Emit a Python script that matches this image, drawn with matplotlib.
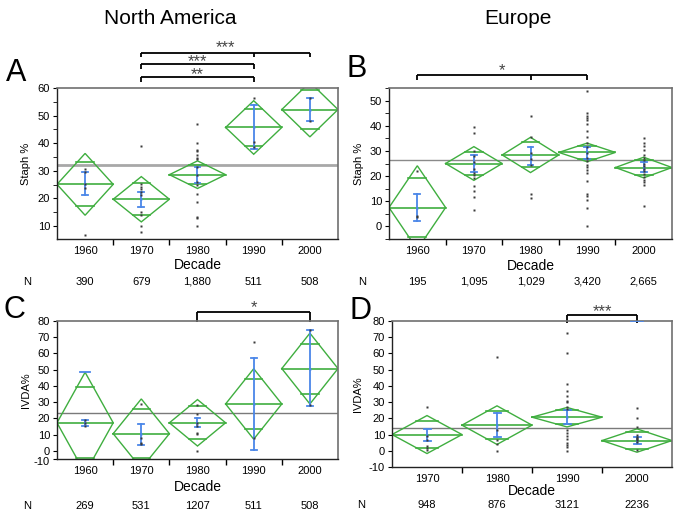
import matplotlib
matplotlib.use('Agg')
import matplotlib.pyplot as plt
import matplotlib.transforms as mtrans
import numpy as np

plt.rcParams['font.family'] = ['Liberation Sans', 'DejaVu Sans']

# ---------------- data ----------------
decades5 = ['1960', '1970', '1980', '1990', '2000']
decades4 = ['1970', '1980', '1990', '2000']

# Panel A - North America, Staph %
means_A = [25.1, 19.7, 28.6, 45.7, 52.2]
ci_A = [11.2, 8.2, 5.0, 9.7, 9.9]
err_lo_A = [21.1, 16.9, 25.6, 37.8, 48.0]
err_hi_A = [29.4, 22.3, 31.5, 53.7, 56.5]
points_A = [
    [30.7, 29.6, 25.1, 23.8, 6.9],
    [39.0, 25.3, 24.2, 23.3, 22.3, 21.2, 15.2, 13.9, 9.9, 7.9],
    [47.1, 39.9, 37.5, 37.0, 35.7, 34.8, 34.2, 31.5, 28.5, 26.0, 24.8, 21.6, 18.8, 13.4, 13.0, 10.0],
    [56.5, 40.3, 38.5],
    [56.4, 48.0],
]
grand_A = 32.2
N_A = ['390', '679', '1,880', '511', '508']

# Panel B - Europe, Staph %
means_B = [7.5, 25.0, 28.4, 29.4, 23.4]
ci_B = [16.6, 6.7, 7.0, 3.7, 4.1]
err_lo_B = [2.0, 21.6, 24.5, 26.7, 21.7]
err_hi_B = [12.8, 28.4, 31.7, 31.5, 25.4]
points_B = [
    [22.1, 4.2, 3.6],
    [39.4, 37.0, 30.0, 28.0, 25.5, 23.0, 21.4, 20.5, 19.2, 15.9, 14.2, 11.6, 6.6],
    [43.7, 35.6, 29.0, 26.7, 24.6, 13.0, 11.3],
    [53.8, 45.0, 44.0, 43.1, 42.1, 40.6, 38.1, 35.6, 33.1, 31.5, 29.0, 27.0, 25.8, 24.5,
     23.5, 22.5, 21.4, 17.9, 13.0, 11.9, 10.3, 7.3, 0.0],
    [35.1, 33.3, 31.8, 30.4, 28.4, 27.1, 26.3, 25.0, 24.0, 23.0, 22.0, 21.0, 19.6, 18.6,
     17.5, 16.6, 8.2],
]
grand_B = 26.2
N_B = ['195', '1,095', '1,029', '3,420', '2,665']

# Panel C - North America, IVDA%
means_C = [17.3, 10.6, 17.3, 28.9, 50.7]
ci_C = [31.1, 21.4, 14.3, 21.7, 21.8]
err_lo_C = [15.5, 3.7, 14.5, 0.6, 27.7]
err_hi_C = [19.0, 16.5, 20.0, 57.2, 74.3]
extra_cap_C = {0: 48.4}
points_C = [
    [19.0, 17.3, 15.3],
    [28.9, 7.7, 5.0, 4.0],
    [28.3, 22.8, 16.9, 15.3, 11.2, 10.4, 0.0],
    [67.2, 7.7],
    [74.3, 28.1],
]
grand_C = 23.3
N_C = ['269', '531', '1207', '511', '508']

# Panel D - Europe, IVDA%
means_D = [10.0, 15.8, 20.7, 6.3]
ci_D = [11.7, 11.9, 6.0, 7.2]
err_lo_D = [6.3, 8.6, 16.4, 4.3]
err_hi_D = [13.7, 23.2, 24.9, 8.4]
extra_cap_D = {3: 79.8}
points_D = [
    [26.9, 9.0, 6.7, 3.0, 2.0, 0.3],
    [57.8, 12.7, 6.7, 4.1, -0.2],
    [72.4, 60.2, 40.9, 36.8, 33.5, 30.8, 30.0, 26.9, 25.5, 12.9, 11.1, 9.0, 7.0, 4.9, 3.7, 2.5, -0.4],
    [26.5, 20.3, 14.8, 9.5, 8.5, 8.0, 7.2, 6.5, 5.5, 0.6],
]
grand_D = 14.2
N_D = ['948', '876', '3121', '2236']

yticks_staph_A = [10, 20, 30, 40, 50, 60]
yticks_staph_B = [0, 10, 20, 30, 40, 50]
yticks_ivda = [0, 10, 20, 30, 40, 50, 60, 70, 80]

# significance brackets: (category indices, label, line y px from top, star offset px)
brackets_A = [([1, 3, 4], '***', 52.7, 6.5), ([1, 3], '***', 64.3, 3.8), ([1, 3], '**', 77.3, 4.0)]
brackets_B = [([0, 2, 3], '*', 75.0, 5.7)]
brackets_C = [([2, 4], '*', 311.7, 5.7)]
brackets_D = [([2, 3], '***', 315.0, 5.0)]

# ---------------- drawing ----------------
W, H = 683, 519
fig = plt.figure(figsize=(W / 100, H / 100), dpi=100)

GREEN = '#3fae3f'
BLUE = '#4a86e8'
PT = '#3a3a3a'
STAR_FS = 12


def rect(l, r, t, b):
    return [l / W, 1 - b / H, (r - l) / W, (b - t) / H]


def fy(px):
    return 1 - px / H


def panel(r, cats, means, ci, elo, ehi, pts, grand, ylim, yticks, ylabel,
          minor=False, extra_caps=None, grand_lw=1.0, grand_color='#8a8a8a',
          ylab_off=26, xlab_off=19, brackets=(), tick_len=4, extra_bottom_label=None):
    ax = fig.add_axes(rect(*r))
    n = len(cats)
    ax.set_xlim(-0.5, n - 0.5)
    ax.set_ylim(*ylim)
    ax.axhline(grand, color=grand_color, lw=grand_lw, zorder=1)
    hw = 0.5 * (1 - 1 / np.sqrt(2)) + 0.01
    for i in range(n):
        m, h = means[i], ci[i]
        o = h / np.sqrt(2)
        ax.plot([i - 0.5, i, i + 0.5, i, i - 0.5], [m, m + h, m, m - h, m],
                color=GREEN, lw=1.0, zorder=2, solid_joinstyle='miter')
        ax.plot([i - 0.5, i + 0.5], [m, m], color=GREEN, lw=1.2, zorder=2)
        ax.plot([i - hw, i + hw], [m + o, m + o], color=GREEN, lw=1.2, zorder=2)
        ax.plot([i - hw, i + hw], [m - o, m - o], color=GREEN, lw=1.2, zorder=2)
        ax.plot([i] * len(pts[i]), pts[i], 's', ms=1.7, color=PT, mec='none', zorder=4)
        ax.plot([i, i], [elo[i], ehi[i]], color=BLUE, lw=1.3, zorder=3)
        for v in (elo[i], ehi[i]):
            ax.plot([i - 0.05, i + 0.05], [v, v], color=BLUE, lw=1.3, zorder=3)
        ax.plot([i], [means[i]], 's', ms=1.7, color=BLUE, mec='none', zorder=3)
    if extra_caps:
        for i, v in extra_caps.items():
            ax.plot([i - 0.09, i + 0.09], [v, v], color=BLUE, lw=1.3, zorder=3)

    # axes styling
    for s in ('left', 'bottom'):
        ax.spines[s].set_color('#222222')
        ax.spines[s].set_linewidth(1.0)
    for s in ('top', 'right'):
        ax.spines[s].set_color('#707070')
        ax.spines[s].set_linewidth(1.2)
    ax.set_xticks(np.arange(n))
    ax.set_xticklabels(cats)
    ax.set_xticks(np.arange(n - 1) + 0.5, minor=True)
    ax.tick_params(axis='x', which='major', length=0, pad=5, labelsize=8)
    ax.tick_params(axis='x', which='minor', length=4, direction='out', width=1)
    ticks = list(yticks)
    labels = [str(t) for t in yticks]
    if extra_bottom_label is not None:
        ticks = [ylim[0]] + ticks
        labels = [extra_bottom_label] + labels
    ax.set_yticks(ticks)
    ax.set_yticklabels(labels)
    if minor:
        ax.set_yticks(np.arange(np.ceil(ylim[0] / 5) * 5, ylim[1] + 0.1, 5), minor=True)
    ax.tick_params(axis='y', which='both', length=3, direction='out', pad=2, labelsize=8)
    if extra_bottom_label is not None:
        lab0 = ax.get_yticklabels()[0]
        lab0.set_transform(lab0.get_transform() +
                           mtrans.ScaledTranslation(0, -2.5 / 100, fig.dpi_scale_trans))
    ax.set_ylabel(ylabel, fontsize=8)
    ax.yaxis.set_label_coords(-ylab_off / (r[1] - r[0]), 0.5)
    ax.set_xlabel('Decade', fontsize=10)
    ax.xaxis.set_label_coords(0.5, -xlab_off / (r[3] - r[2]))

    # brackets
    tr = mtrans.blended_transform_factory(ax.transData, fig.transFigure)
    for idx, lab, ypx, off in brackets:
        x0, x1 = min(idx), max(idx)
        ax.plot([x0, x1], [fy(ypx), fy(ypx)], color='black', lw=1.3,
                transform=tr, clip_on=False, solid_capstyle='butt')
        for k in idx:
            ax.plot([k, k], [fy(ypx), fy(ypx + tick_len)], color='black', lw=1.3,
                    transform=tr, clip_on=False, solid_capstyle='butt')
        base = ypx - off + 0.57 * STAR_FS * 100 / 72 - 3.5
        ax.text((x0 + x1) / 2, fy(base), lab, ha='center', va='baseline',
                fontsize=STAR_FS, color='#444444', transform=tr)
    return ax, tr


axA, trA = panel((57, 338, 88, 239), decades5, means_A, ci_A, err_lo_A, err_hi_A, points_A,
                 grand_A, (5.3, 60), yticks_staph_A, 'Staph %', minor=True,
                 grand_lw=2.0, grand_color='#a8a8a8', ylab_off=26, xlab_off=19,
                 brackets=brackets_A, tick_len=4.5)
axB, trB = panel((389, 672, 88, 239), decades5, means_B, ci_B, err_lo_B, err_hi_B, points_B,
                 grand_B, (-5, 55), yticks_staph_B, 'Staph %', minor=True,
                 grand_lw=1.0, grand_color='#8a8a8a', ylab_off=25, xlab_off=20,
                 brackets=brackets_B, tick_len=4.5)
axC, trC = panel((57, 338, 321, 459), decades5, means_C, ci_C, err_lo_C, err_hi_C, points_C,
                 grand_C, (-5, 80), yticks_ivda, 'IVDA%', minor=False,
                 extra_caps=extra_cap_C, grand_lw=1.0, grand_color='#7a7a7a',
                 ylab_off=26, xlab_off=21, brackets=brackets_C, tick_len=10,
                 extra_bottom_label='-10')
axD, trD = panel((392, 672, 321, 467), decades4, means_D, ci_D, err_lo_D, err_hi_D, points_D,
                 grand_D, (-10, 80), [-10] + yticks_ivda, 'IVDA%', minor=False,
                 extra_caps=extra_cap_D, grand_lw=1.0, grand_color='#7a7a7a',
                 ylab_off=29, xlab_off=17, brackets=brackets_D, tick_len=7.7)

# N rows
for ax, tr, vals, ypx, nx in ((axA, trA, N_A, 282, 27), (axB, trB, N_B, 282, 362),
                              (axC, trC, N_C, 506, 27), (axD, trD, N_D, 505, 361)):
    fig.text(nx / W, fy(ypx), 'N', ha='center', va='center', fontsize=8)
    for i, v in enumerate(vals):
        ax.text(i, fy(ypx), v, ha='center', va='center', fontsize=8, transform=tr)

# titles and panel letters
fig.text(170 / W, fy(18), 'North America', ha='center', va='center', fontsize=15)
fig.text(518 / W, fy(18), 'Europe', ha='center', va='center', fontsize=15)
for lab, x, y in (('A', 16, 73), ('B', 357, 69), ('C', 14, 310), ('D', 360, 311)):
    fig.text(x / W, fy(y), lab, ha='center', va='center', fontsize=22)

fig.savefig('out.png', dpi=100)
